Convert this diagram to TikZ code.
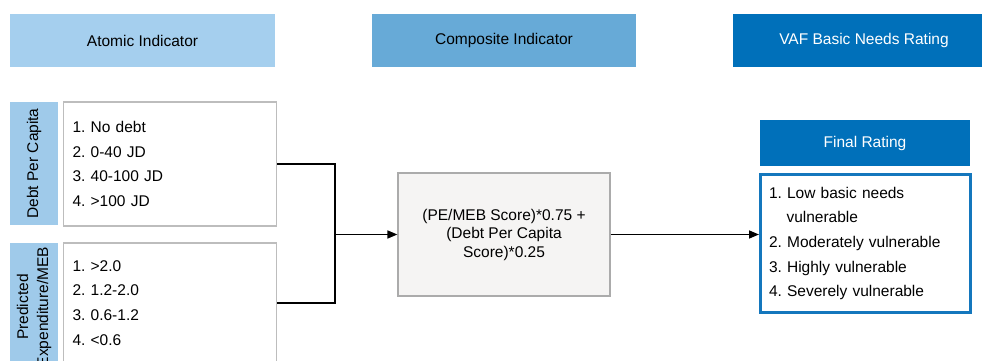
\documentclass[tikz,border=0pt]{standalone}
\usepackage{fontspec}
\setmainfont{Liberation Sans}
\usetikzlibrary{arrows.meta}
\frenchspacing
\definecolor{hdrA}{HTML}{A5CFEE}
\definecolor{hdrB}{HTML}{67AAD7}
\definecolor{hdrC}{HTML}{0070BA}
\definecolor{lblA}{HTML}{9FCAEA}
\definecolor{boxgray}{HTML}{BDBDBD}
\definecolor{compfill}{HTML}{F5F4F3}
\definecolor{compdraw}{HTML}{ABABAB}
\definecolor{finaldraw}{HTML}{1477BD}
\begin{document}
\begin{tikzpicture}[x=1pt,y=-1pt,
  txt/.style={font={\fontsize{15.5}{24.7}\selectfont\frenchspacing}},
  hdr/.style={txt, minimum height=53pt, inner sep=0pt, text=black},
  lbl/.style={txt, fill=lblA, rotate=90, minimum height=48pt, inner sep=0pt, align=center, font={\fontsize{15.5}{20}\selectfont}},
  listbox/.style={txt, draw=boxgray, line width=1.2pt, fill=white, align=left, inner xsep=9pt, inner ysep=0pt, anchor=west, minimum width=213pt, text width=195pt},
  conn/.style={line width=1.6pt, black},
  arr/.style={conn, -{Triangle[length=10pt,width=8pt]}}
]
\clip (0,0) rectangle (982,360);
\fill[white] (0,0) rectangle (982,360);
% headers
\node[hdr, fill=hdrA, minimum width=265pt] (atomic) at (142.5,40.5) {Atomic Indicator};
\node[hdr, fill=hdrB, minimum width=264pt] (composite) at (504,40.5) {Composite Indicator};
\node[hdr, fill=hdrC, minimum width=262pt, text=white] (vaf) at (864,40.5) {VAF Basic Needs Rating};
% left labels
\node[lbl, minimum width=123pt] (debtlbl) at (34,163.5) {Debt Per Capita};
\node[lbl, minimum width=128pt] (predlbl) at (34,307) {Predicted\\Expenditure/MEB};
% lists
\node[listbox, minimum height=124pt] (debtlist) at (63,164) {1. No debt\\2. 0-40 JD\\3. 40-100 JD\\4. >100 JD};
\node[listbox, minimum height=120pt] (predlist) at (63,303) {1. >2.0\\2. 1.2-2.0\\3. 0.6-1.2\\4. <0.6};
% composite
\node[draw=compdraw, fill=compfill, line width=1.2pt, minimum width=212pt, minimum height=123pt, align=center, inner sep=0pt, font={\fontsize{15.5}{18.5}\selectfont}] (comp) at (504,234.5) {(PE/MEB Score)*0.75 +\\(Debt Per Capita\\Score)*0.25};
% final rating
\node[hdr, fill=hdrC, text=white, minimum width=210pt, minimum height=46pt] (frhdr) at (865,143) {Final Rating};
\node[txt, draw=finaldraw, line width=3pt, fill=white, minimum width=210pt, minimum height=138pt, align=left, text width=193pt, inner xsep=7.5pt, inner ysep=0pt] (final) at (865.5,243.5) {1. Low basic needs\\\hspace*{17.5pt}vulnerable\\2. Moderately vulnerable\\3. Highly vulnerable\\4. Severely vulnerable};
% connectors
\coordinate (jn) at (335,234.5);
\draw[conn] (debtlist.east) -| (jn) |- (predlist.east);
\draw[arr] (jn) -- (comp.west);
\draw[arr] (comp.east) -- (comp.east -| final.west);
\end{tikzpicture}
\end{document}
